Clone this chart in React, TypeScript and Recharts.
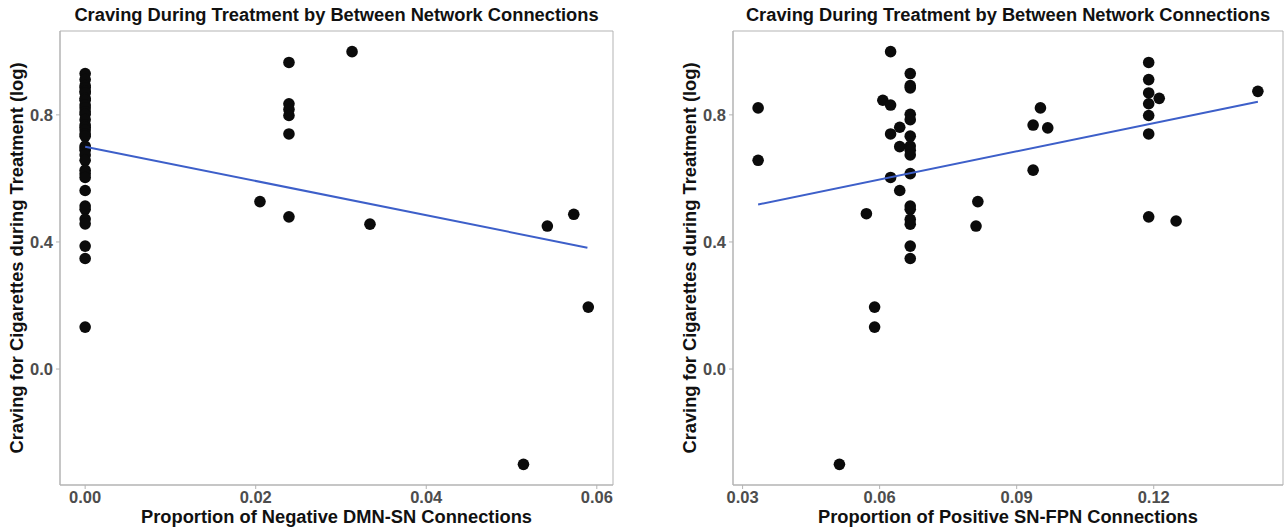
import { ScatterChart, Scatter, XAxis, YAxis, ReferenceArea } from "recharts";

// Left panel: proportion of negative DMN-SN connections
const dmnX = [
  0, 0, 0, 0, 0, 0, 0, 0, 0, 0, 0, 0, 0, 0, 0, 0, 0, 0, 0, 0, 0, 0, 0, 0, 0, 0, 0, 0, 0, 0, 0, 0, 0, 0,
  0.0239, 0.0239, 0.0239, 0.0239, 0.0239, 0.0239, 0.0313, 0.0205, 0.0334, 0.0542, 0.0573, 0.059, 0.0514,
];
const dmnY = [
  0.93, 0.911, 0.892, 0.885, 0.874, 0.869, 0.852, 0.846, 0.831, 0.822, 0.81, 0.802, 0.785, 0.768, 0.761,
  0.752, 0.74, 0.733, 0.702, 0.696, 0.689, 0.674, 0.657, 0.626, 0.615, 0.603, 0.562, 0.513, 0.503, 0.472,
  0.457, 0.387, 0.348, 0.132,
  0.965, 0.835, 0.817, 0.798, 0.74, 0.479, 0.999, 0.527, 0.456, 0.45, 0.487, 0.195, -0.3,
];
const dmnFitX = [0, 0.0589];
const dmnFitY = [0.7, 0.382];

// Right panel: proportion of positive SN-FPN connections
const fpnX = [
  0.0334, 0.0334, 0.0624, 0.0607, 0.0624, 0.0644, 0.0624, 0.0644, 0.0624, 0.0644, 0.0571,
  0.0667, 0.0667, 0.0667, 0.0667, 0.0667, 0.0667, 0.0667, 0.0667, 0.0667, 0.0667, 0.0667, 0.0667,
  0.0667, 0.0667, 0.0667, 0.0667, 0.0589, 0.0589, 0.0512, 0.0815, 0.0811, 0.0936, 0.0936, 0.0952,
  0.0968, 0.1189, 0.1189, 0.1189, 0.1212, 0.1189, 0.1189, 0.1189, 0.1189, 0.1249, 0.1428,
];
const fpnY = [
  0.822, 0.657, 0.999, 0.846, 0.831, 0.761, 0.74, 0.7, 0.603, 0.562, 0.489,
  0.93, 0.892, 0.885, 0.802, 0.785, 0.733, 0.702, 0.689, 0.674, 0.615, 0.513,
  0.503, 0.471, 0.456, 0.387, 0.348, 0.195, 0.132, -0.3, 0.527, 0.45, 0.626, 0.768, 0.822,
  0.759, 0.965, 0.911, 0.869, 0.852, 0.835, 0.798, 0.74, 0.479, 0.466, 0.874,
];
const fpnFitX = [0.0334, 0.1428];
const fpnFitY = [0.518, 0.841];

const yTicks = [0, 0.4, 0.8];
const dmnTicks = [0, 0.02, 0.04, 0.06];
const fpnTicks = [0.03, 0.06, 0.09, 0.12];

const TITLE = "Craving During Treatment by Between Network Connections";
const Y_TITLE = "Craving for Cigarettes during Treatment (log)";

const FONT = '"Liberation Sans", Arial, sans-serif';
const BORDER = "#b3b3b3";
const TICK_COLOR = "#4d4d4d";

const zip = (xs: number[], ys: number[]) => xs.map((x, i) => ({ x, y: ys[i] }));

const dot = (props: any) => <circle cx={props.cx} cy={props.cy} r={5.8} fill="#0b0b0b" />;

interface PanelProps {
  left: number;
  width: number;
  yAxisWidth: number;
  rightMargin: number;
  xDomain: [number, number];
  xTicks: number[];
  points: { x: number; y: number }[];
  fit: { x: number; y: number }[];
  xTitle: string;
  yTitleX: number;
}

function Panel(p: PanelProps) {
  const tick = { fill: TICK_COLOR, fontSize: 16.5, fontWeight: 700, fontFamily: FONT };
  const plotLeft = p.yAxisWidth;
  const plotRight = p.width - p.rightMargin;
  const center = (plotLeft + plotRight) / 2;
  const label = {
    position: "absolute" as const,
    fontFamily: FONT,
    fontWeight: 700,
    fontSize: 18.3,
    color: "#111",
    whiteSpace: "nowrap" as const,
    textAlign: "center" as const,
  };
  return (
    <div style={{ position: "absolute", left: p.left, top: 0, width: p.width, height: 528 }}>
      <ScatterChart width={p.width} height={528} margin={{ top: 31, right: p.rightMargin, left: 0, bottom: 0 }}>
        <XAxis
          type="number"
          dataKey="x"
          domain={p.xDomain}
          ticks={p.xTicks}
          allowDataOverflow
          height={43}
          tick={tick}
          tickSize={4}
          tickMargin={2}
          tickLine={{ stroke: BORDER }}
          axisLine={{ stroke: BORDER }}
          tickFormatter={(v: number) => v.toFixed(2)}
        />
        <YAxis
          type="number"
          dataKey="y"
          domain={[-0.365, 1.064]}
          ticks={yTicks}
          allowDataOverflow
          width={p.yAxisWidth}
          tick={tick}
          tickSize={4}
          tickMargin={3}
          tickLine={{ stroke: BORDER }}
          axisLine={{ stroke: BORDER }}
          tickFormatter={(v: number) => v.toFixed(1)}
        />
        <ReferenceArea
          x1={p.xDomain[0]}
          x2={p.xDomain[1]}
          y1={-0.365}
          y2={1.064}
          fill="none"
          stroke={BORDER}
          strokeWidth={1}
          ifOverflow="visible"
        />
        <Scatter data={p.points} shape={dot} isAnimationActive={false} />
        <Scatter
          data={p.fit}
          line={{ stroke: "#3d5fc9", strokeWidth: 2 }}
          shape={() => <g />}
          isAnimationActive={false}
        />
      </ScatterChart>
      <div style={{ ...label, left: center - 320, width: 640, top: 4 }}>{TITLE}</div>
      <div style={{ ...label, left: center - 320, width: 640, top: 510, height: 14, lineHeight: "14px" }}>
        {p.xTitle}
      </div>
      <div
        style={{
          ...label,
          left: p.yTitleX - 250,
          top: 258 - 12,
          width: 500,
          height: 24,
          lineHeight: "24px",
          transform: "rotate(-90deg)",
        }}
      >
        {Y_TITLE}
      </div>
    </div>
  );
}

export default function App() {
  return (
    <div style={{ position: "absolute", left: 0, top: 0, width: 1286, height: 528, background: "#fff" }}>
      <Panel
        left={0}
        width={640}
        yAxisWidth={60}
        rightMargin={27}
        xDomain={[-0.00295, 0.0619]}
        xTicks={dmnTicks}
        points={zip(dmnX, dmnY)}
        fit={zip(dmnFitX, dmnFitY)}
        xTitle="Proportion of Negative DMN-SN Connections"
        yTitleX={17}
      />
      <Panel
        left={640}
        width={646}
        yAxisWidth={93}
        rightMargin={3}
        xDomain={[0.0279, 0.1483]}
        xTicks={fpnTicks}
        points={zip(fpnX, fpnY)}
        fit={zip(fpnFitX, fpnFitY)}
        xTitle="Proportion of Positive SN-FPN Connections"
        yTitleX={50}
      />
    </div>
  );
}
